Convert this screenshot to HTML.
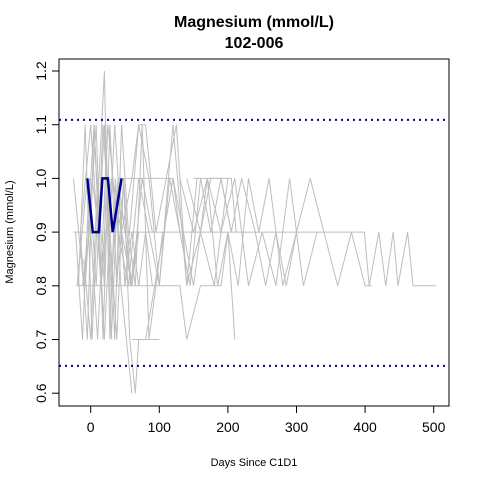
<!DOCTYPE html>
<html><head><meta charset="utf-8"><style>
body{margin:0;background:#fff}
svg{display:block}
text{font-family:"Liberation Sans",sans-serif}
</style></head><body>
<svg id="chart" width="480" height="480">
<text x="254" y="27" text-anchor="middle" font-size="16" font-weight="bold">Magnesium (mmol/L)</text>
<text x="254" y="48" text-anchor="middle" font-size="16" font-weight="bold">102-006</text>
<text x="254" y="466" text-anchor="middle" font-size="11">Days Since C1D1</text>
<text transform="translate(13,232) rotate(-90)" text-anchor="middle" font-size="11">Magnesium (mmol/L)</text>
<g id="marks"></g>
<g id="axes"></g>
<rect x="59" y="59" width="390" height="347" fill="none" stroke="#000"/>
</svg>
<script>
const xTicks=[0,100,200,300,400,500];
const yTicks=[0.6,0.7,0.8,0.9,1.0,1.1,1.2];
const yTickLabels=["0.6","0.7","0.8","0.9","1.0","1.1","1.2"];
const refLines=[1.109,0.651];
const subjectDays=[-5,3,12,17,25,32,45];
const subjectValues=[1.0,0.9,0.9,1.0,1.0,0.9,1.0];
const otherDays=[
[-25,50,100,150,200,250,300,350,399,406,420,430,441,448,462,470,503],
[-20,20,60,100,130,140,160,170,190,200,210],
[-25,-10,5,20,35,50,70,85,100,120,140,160,180,200],
[-15,-5,5,15,25,35,45,55,65,75,85,95,105],
[-18,-8,2,12,20,28,36,44,52,60],
[-10,0,10,20,22,30,40,50,60,70,80,90],
[-22,-12,-2,8,18,28,38,48,58,68],
[-20,-5,10,25,40,55,70,85,100,115,130,145,160,175,190,205],
[60,80,120,150,170,190,210,230,250,270,290,310,330],
[-12,-2,8,18,28,38,48,57,65,70,100],
[130,150,170,185,200,215,230,245,260,280,300],
[-15,0,15,30,45,60,75,90],
[-8,2,12,20,30,40,50,60,70],
[140,160,175,190,205,220,240,255,270,285,300,320,340,360,380,400,410],
[45,60,70,80,95,110,125,140,155],
[150,170,185,205,212],
[40,60,80,100,120,130]
];
const otherValues=[
[0.9,0.9,0.9,0.9,0.9,0.9,0.9,0.9,0.9,0.8,0.9,0.8,0.9,0.8,0.9,0.8,0.8],
[0.8,0.8,0.8,0.8,0.8,0.7,0.8,0.8,0.8,0.9,0.7],
[1.0,0.8,1.1,0.7,1.1,0.8,1.1,1.0,0.8,1.1,0.8,0.9,0.8,1.0],
[0.9,0.7,1.1,0.8,1.0,0.7,1.1,0.9,0.8,1.1,0.7,0.8,0.9],
[0.8,1.1,0.7,1.0,1.2,0.7,1.0,0.8,0.7,0.6],
[0.85,0.7,1.0,0.8,1.1,0.7,1.0,0.8,0.9,0.8,0.9,0.8],
[0.9,0.7,1.0,0.8,1.1,0.9,0.7,1.0,0.8,0.9],
[0.8,1.0,0.7,1.1,0.9,0.8,1.0,0.9,0.8,1.0,0.9,0.8,1.0,0.9,1.0,0.9],
[0.7,0.7,1.0,0.8,1.0,0.9,1.0,0.8,0.9,0.8,1.0,0.8,0.9],
[0.8,0.9,1.1,0.7,1.1,0.8,1.0,0.7,0.6,0.7,0.7],
[1.0,0.9,1.0,0.8,0.9,0.8,1.0,0.9,1.0,0.8,0.9],
[0.9,1.1,0.8,1.0,0.9,0.8,1.0,0.9],
[0.8,1.0,0.9,1.1,0.8,1.0,0.9,0.8,0.9],
[1.0,0.9,1.0,1.0,0.9,1.0,0.9,0.8,0.9,0.8,0.9,1.0,0.9,0.8,0.9,0.8,0.8],
[0.9,1.0,1.1,1.1,0.9,1.0,1.1,0.8,1.0],
[1.0,1.0,1.0,1.0,0.9],
[1.0,1.0,1.0,1.0,1.0,0.9]
];
const NS="http://www.w3.org/2000/svg";
function xs(d){return 90.7+d*0.686;}
function ys(v){return 71+(1.2-v)*537;}
const marks=document.getElementById('marks');
const axes=document.getElementById('axes');
function pline(days,vals,color,w,name){
  const p=document.createElementNS(NS,'polyline');
  p.setAttribute('points',days.map((d,i)=>xs(d).toFixed(1)+','+ys(vals[i]).toFixed(1)).join(' '));
  p.setAttribute('fill','none');p.setAttribute('stroke',color);p.setAttribute('stroke-width',w);
  
  
  marks.appendChild(p);
}
otherDays.forEach((d,i)=>pline(d,otherValues[i],'#bebebe',1,'other-subject-line'));
refLines.forEach(v=>{
  const l=document.createElementNS(NS,'line');
  l.setAttribute('x1',59);l.setAttribute('x2',449);l.setAttribute('y1',ys(v));l.setAttribute('y2',ys(v));
  l.setAttribute('stroke','#00008b');l.setAttribute('stroke-width',2);l.setAttribute('stroke-dasharray','2,4');
  
  
  marks.appendChild(l);
});
pline(subjectDays,subjectValues,'#00008b',2.5,'subject-line');
xTicks.forEach(t=>{
  const l=document.createElementNS(NS,'line');
  l.setAttribute('x1',xs(t));l.setAttribute('x2',xs(t));l.setAttribute('y1',406);l.setAttribute('y2',413);l.setAttribute('stroke','#000');
  
  
  axes.appendChild(l);
  const tx=document.createElementNS(NS,'text');
  tx.setAttribute('x',xs(t));tx.setAttribute('y',432);tx.setAttribute('text-anchor','middle');tx.setAttribute('font-size','14');
  tx.textContent=t;
  
  
  axes.appendChild(tx);
});
const xa=document.createElementNS(NS,'line');
xa.setAttribute('x1',xs(0));xa.setAttribute('x2',xs(500));xa.setAttribute('y1',406);xa.setAttribute('y2',406);xa.setAttribute('stroke','#000');


axes.appendChild(xa);
yTicks.forEach((t,i)=>{
  const l=document.createElementNS(NS,'line');
  l.setAttribute('x1',52);l.setAttribute('x2',59);l.setAttribute('y1',ys(t));l.setAttribute('y2',ys(t));l.setAttribute('stroke','#000');
  
  
  axes.appendChild(l);
  const tx=document.createElementNS(NS,'text');
  tx.setAttribute('transform','translate(46,'+ys(t)+') rotate(-90)');tx.setAttribute('text-anchor','middle');tx.setAttribute('font-size','14');
  tx.textContent=yTickLabels[i];
  
  
  axes.appendChild(tx);
});
</script>
</body></html>
